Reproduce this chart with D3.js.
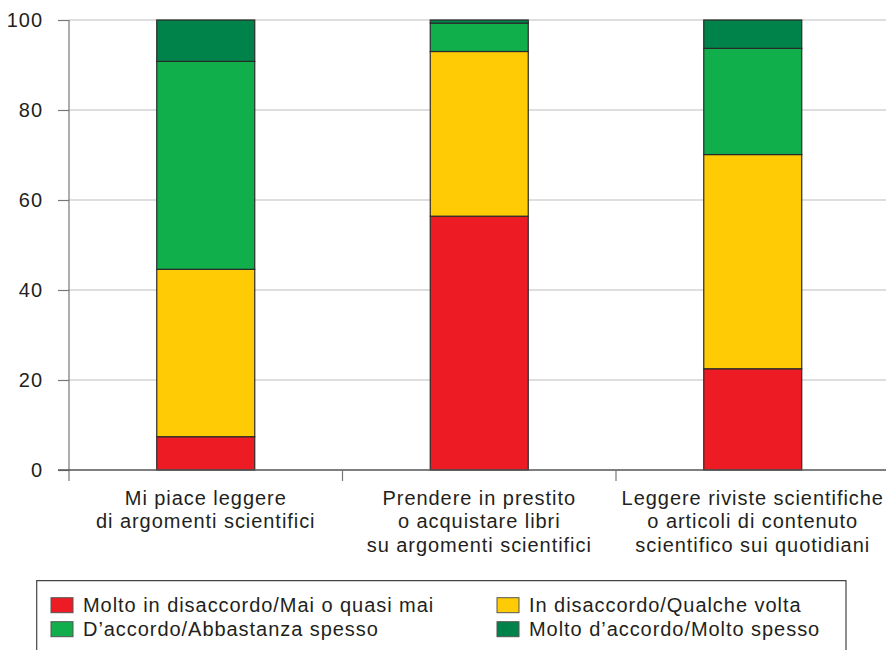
<!DOCTYPE html>
<html>
<head>
<meta charset="utf-8">
<script src="https://cdn.jsdelivr.net/npm/d3@7"></script>
<style>
  html, body { margin: 0; padding: 0; background: #fff; }
  svg { display: block; font-family: "Liberation Sans", Arial, Helvetica, sans-serif; }
  svg text { letter-spacing: 0.95px; }
</style>
</head>
<body>
<svg id="chart" width="886" height="650"></svg>
<script>
const categories = [
  ["Mi piace leggere", "di argomenti scientifici"],
  ["Prendere in prestito", "o acquistare libri", "su argomenti scientifici"],
  ["Leggere riviste scientifiche", "o articoli di contenuto", "scientifico sui quotidiani"]
];
const seriesNames = [
  "Molto in disaccordo/Mai o quasi mai",
  "In disaccordo/Qualche volta",
  "D\u2019accordo/Abbastanza spesso",
  "Molto d\u2019accordo/Molto spesso"
];
const moltoDisaccordo = [7.4, 56.4, 22.5];
const disaccordo = [37.2, 36.6, 47.6];
const daccordo = [46.2, 6.3, 23.6];
const moltoDaccordo = [9.2, 0.7, 6.3];
const yTicks = [0, 20, 40, 60, 80, 100];
const colors = ["#ED1C24", "#FFCB05", "#10AF4B", "#00834A"];

(function () {
const svg = d3.select("#chart");
const mLeft = 69, mRight = 889.5, mTop = 20, mBottom = 470;
const textColor = "#231f20";
const fs = "20px";

const catKeys = categories.map((c, i) => "c" + i);
const x = d3.scaleBand().domain(catKeys).range([mLeft, mRight]).paddingInner(0).paddingOuter(0);
const y = d3.scaleLinear().domain([0, 100]).range([mBottom, mTop]);

const rows = catKeys.map((k, i) => ({
  key: k,
  s0: moltoDisaccordo[i], s1: disaccordo[i], s2: daccordo[i], s3: moltoDaccordo[i]
}));
const stacked = d3.stack().keys(["s0", "s1", "s2", "s3"])(rows);

// gridlines
svg.append("g")
  .selectAll("line")
  .data(yTicks.filter(t => t > 0))
  .join("line")
  .attr("x1", mLeft).attr("x2", 886)
  .attr("y1", d => y(d)).attr("y2", d => y(d))
  .attr("stroke", "#bdbdbd").attr("stroke-width", 1.2);

// y axis
const yAxis = d3.axisLeft(y).tickValues(yTicks).tickSize(11).tickPadding(15).tickFormat(d3.format("d"));
const gy = svg.append("g").attr("transform", `translate(${mLeft},0)`).call(yAxis);
gy.select(".domain").remove();
gy.selectAll(".tick line").attr("stroke", "#777").attr("stroke-width", 1.2);
gy.selectAll(".tick text").attr("fill", textColor).style("font-size", fs)
  .style("font-family", "'Liberation Sans', Arial, sans-serif");
svg.append("line").attr("x1", mLeft).attr("x2", mLeft).attr("y1", mTop).attr("y2", mBottom + 11)
  .attr("stroke", "#777").attr("stroke-width", 1.2);

// bars
const barW = 98;
svg.append("g")
  .selectAll("g")
  .data(stacked)
  .join("g")
  .attr("fill", (d, i) => colors[i])
  .selectAll("rect")
  .data(d => d)
  .join("rect")
  .attr("x", d => x(d.data.key) + (x.bandwidth() - barW) / 2)
  .attr("width", barW)
  .attr("y", d => y(d[1]))
  .attr("height", d => y(d[0]) - y(d[1]))
  .attr("stroke", "#2a2a2a").attr("stroke-width", 1.2);

// baseline
svg.append("line").attr("x1", mLeft - 11).attr("x2", 886).attr("y1", mBottom).attr("y2", mBottom)
  .attr("stroke", "#555").attr("stroke-width", 1.3);

// x axis divider ticks
const dividers = catKeys.slice(1).map(k => x(k));
svg.append("g").selectAll("line").data(dividers).join("line")
  .attr("x1", d => d).attr("x2", d => d).attr("y1", mBottom).attr("y2", mBottom + 11)
  .attr("stroke", "#777").attr("stroke-width", 1.2);

// category labels
const lab = svg.append("g").selectAll("text").data(categories).join("text")
  .attr("text-anchor", "middle")
  .attr("fill", textColor)
  .style("font-size", fs)
  .attr("transform", (d, i) => `translate(${x(catKeys[i]) + x.bandwidth() / 2},505)`);
lab.selectAll("tspan").data(d => d).join("tspan")
  .attr("x", 0).attr("y", (d, j) => j * 23.3).text(d => d);

// legend
svg.append("path")
  .attr("d", "M36.7,651 V580.7 H846 V651")
  .attr("fill", "none").attr("stroke", "#444").attr("stroke-width", 1.2);
const legPos = [[51, 597.7], [497, 597.7], [51, 621.7], [497, 621.7]];
const leg = svg.append("g").selectAll("g").data(seriesNames).join("g")
  .attr("transform", (d, i) => `translate(${legPos[i][0]},${legPos[i][1]})`);
leg.append("rect").attr("width", 22).attr("height", 15)
  .attr("fill", (d, i) => colors[i]).attr("stroke", "#555").attr("stroke-width", 1);
leg.append("text").attr("x", 32).attr("y", 14.5).attr("fill", textColor)
  .style("font-size", fs).text(d => d);
})();
</script>
</body>
</html>
